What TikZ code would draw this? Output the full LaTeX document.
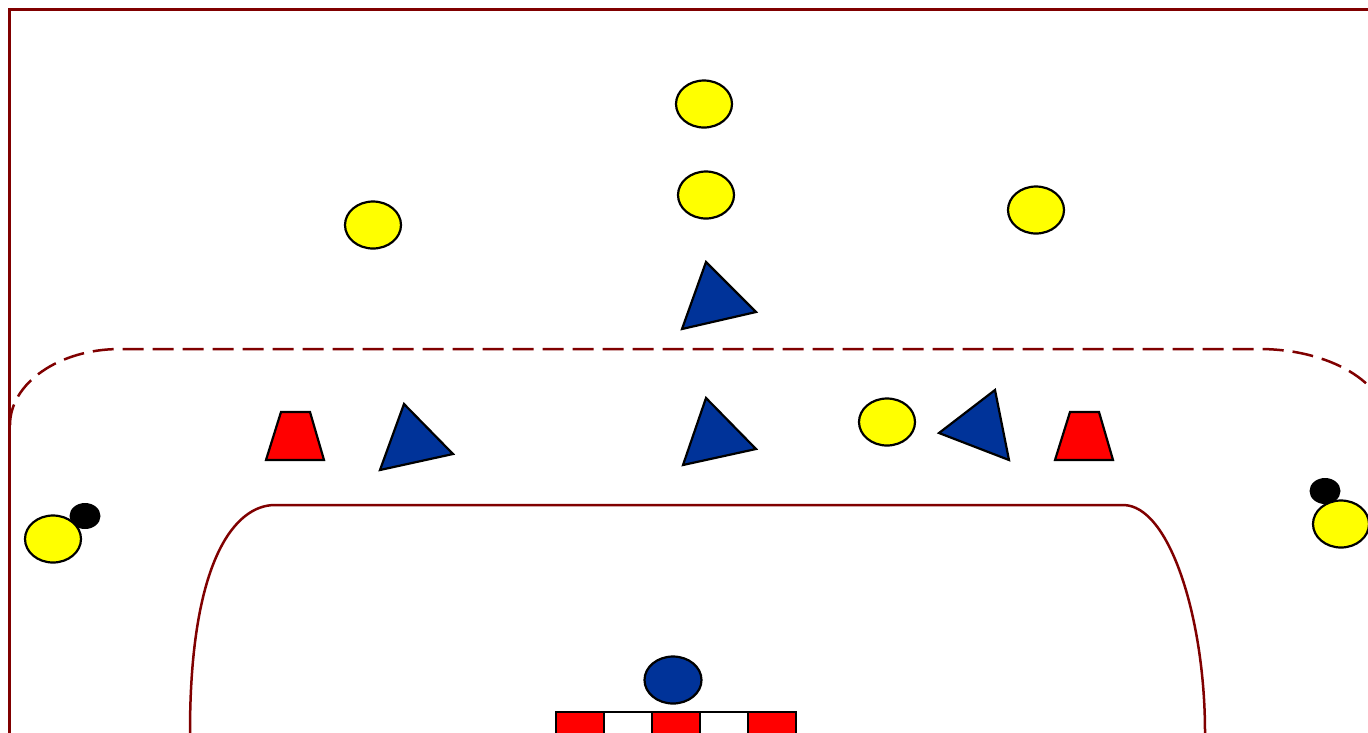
\documentclass[tikz,border=0pt]{standalone}
\usetikzlibrary{shapes.geometric}
\definecolor{court}{HTML}{800000}
\definecolor{pblue}{HTML}{003399}
\definecolor{pyellow}{HTML}{FFFF00}
\definecolor{pred}{HTML}{FF0000}
\tikzset{
  courtline/.style={draw=court, line width=2.5pt},
  player/.style={ellipse, draw=black, line width=2.2pt, fill=pyellow, minimum width=56pt, minimum height=47pt, inner sep=0pt},
  keeper/.style={ellipse, draw=black, line width=2.2pt, fill=pblue, minimum width=57pt, minimum height=47pt, inner sep=0pt},
  ball/.style={ellipse, fill=black, minimum width=31pt, minimum height=26pt, inner sep=0pt},
  defender/.style={draw=black, line width=2.2pt, fill=pblue, line join=miter},
  cone/.style={draw=black, line width=2.2pt, fill=pred},
  goalpost/.style={draw=black, line width=2.2pt},
}
\begin{document}
\begin{tikzpicture}[x=1pt,y=-1pt]
\useasboundingbox (0,0) rectangle (1368,732);
\clip (0,0) rectangle (1368,732);
\fill[white] (0,0) rectangle (1368,732);
% outer frame
\draw[courtline, line width=3pt] (9.5,760) -- (9.5,9.5) -- (1380,9.5);
% dashed 9m line
\draw[courtline, dash pattern=on 21pt off 9pt]
  (10,425) arc[start angle=180, end angle=270, x radius=110, y radius=76]
  -- (1259,349) arc[start angle=270, end angle=360, x radius=128, y radius=76];
% 6m line
\draw[courtline]
  (190,740) -- (190,732) .. controls (190,560) and (235,505) .. (275,505)
  -- (1123,505) .. controls (1170,505) and (1205,620) .. (1205,732) -- (1205,740);
% goal
\foreach \i/\c in {0/pred,1/white,2/pred,3/white,4/pred}{
  \draw[goalpost, fill=\c] ({556+48*\i},712) rectangle ({604+48*\i},745);
}
% keeper
\node[keeper] (gk) at (673,680) {};
% attackers
\node[player] (p1) at (704,104) {};
\node[player] (p2) at (706,195) {};
\node[player] (p3) at (373,225) {};
\node[player] (p4) at (1036,210) {};
\node[player] (p5) at (887,422) {};
\node[ball] (b1) at (85,516) {};
\node[player] (p6) at (53,539) {};
\node[ball] (b2) at (1325,491) {};
\node[player] (p7) at (1341,524) {};
% defenders
\draw[defender] (706,262) -- (756,312) -- (682,329) -- cycle;
\draw[defender] (404,404) -- (453,454) -- (380,470) -- cycle;
\draw[defender] (706,398) -- (756,449) -- (683,465) -- cycle;
\draw[defender] (995,390) -- (1009,460) -- (939,433) -- cycle;
% cones
\draw[cone] (281,412) -- (310,412) -- (324,460) -- (266,460) -- cycle;
\draw[cone] (1070,412) -- (1099,412) -- (1113,460) -- (1055,460) -- cycle;
\end{tikzpicture}
\end{document}
